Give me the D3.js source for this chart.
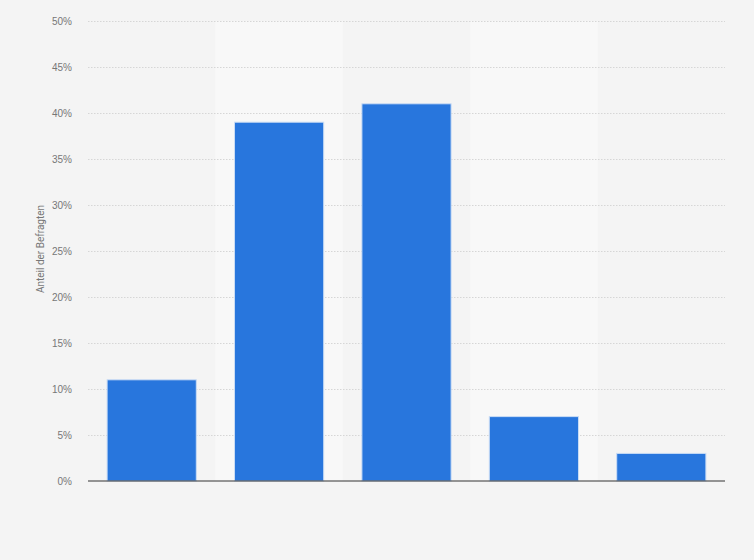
<!DOCTYPE html>
<html lang="de">
<head>
<meta charset="UTF-8">
<title>Anteil der Befragten</title>
<script src="https://d3js.org/d3.v7.min.js"></script>
<style>
    body { margin: 0; background: #f4f4f4; }
    svg { display: block; font-family: Roboto, "Liberation Sans", Arial, sans-serif; }
    .grid line { stroke: #d6d6d6; stroke-dasharray: 1.5 1.5; }
    .grid path { display: none; }
    .axis--y path, .axis--y line { display: none; }
    .axis--y text { fill: #777; font-size: 10px; }
    .bar { fill: #2876dd; stroke: #c9dcf5; stroke-width: 1; }
</style>
</head>
<body>
<svg width="754" height="560"></svg>
<script>
    // values
    const categories = ["A", "B", "C", "D", "E"];
    const values = [11, 39, 41, 7, 3];
    const yTicks = [0, 5, 10, 15, 20, 25, 30, 35, 40, 45, 50];

    const svg = d3.select("svg"),
        margin = { top: 21, right: 29, bottom: 79, left: 88 },
        width = +svg.attr("width") - margin.left - margin.right,
        height = +svg.attr("height") - margin.top - margin.bottom;

    const x = d3.scaleBand()
        .domain(categories)
        .range([0, width])
        .paddingInner(0.3)
        .paddingOuter(0.15);

    const band = d3.scaleBand().domain(categories).range([0, width]);

    const y = d3.scaleLinear()
        .domain([0, 50])
        .range([height, 0]);

    svg.append("rect")
        .attr("width", 754).attr("height", 560)
        .attr("fill", "#f4f4f4");

    const g = svg.append("g")
        .attr("transform", `translate(${margin.left},${margin.top})`);

    // alternating column shading
    g.selectAll(".stripe")
        .data(categories.filter((d, i) => i % 2 === 1))
        .enter().append("rect")
        .attr("class", "stripe")
        .attr("x", d => band(d))
        .attr("y", 0)
        .attr("width", band.bandwidth())
        .attr("height", height)
        .attr("fill", "#f8f8f8");

    // grid lines
    g.append("g")
        .attr("class", "grid")
        .call(d3.axisLeft(y).tickValues(yTicks.slice(1)).tickSize(-width).tickFormat(""));

    g.append("g")
        .attr("class", "axis axis--y")
        .call(d3.axisLeft(y).tickValues(yTicks).tickSize(0).tickPadding(16).tickFormat(d => d + "%"));

    g.selectAll(".bar")
        .data(values)
        .enter().append("rect")
        .attr("class", "bar")
        .attr("x", (d, i) => x(categories[i]))
        .attr("y", d => y(d))
        .attr("width", x.bandwidth())
        .attr("height", d => height - y(d));

    // baseline
    g.append("line")
        .attr("x1", 0).attr("x2", width)
        .attr("y1", height).attr("y2", height)
        .attr("stroke", "#333").attr("stroke-width", 1.2);

    svg.append("text")
        .attr("transform", "rotate(-90)")
        .attr("x", -249)
        .attr("y", 44)
        .attr("text-anchor", "middle")
        .attr("fill", "#777")
        .attr("font-size", 10)
        .text("Anteil der Befragten");
</script>
</body>
</html>
